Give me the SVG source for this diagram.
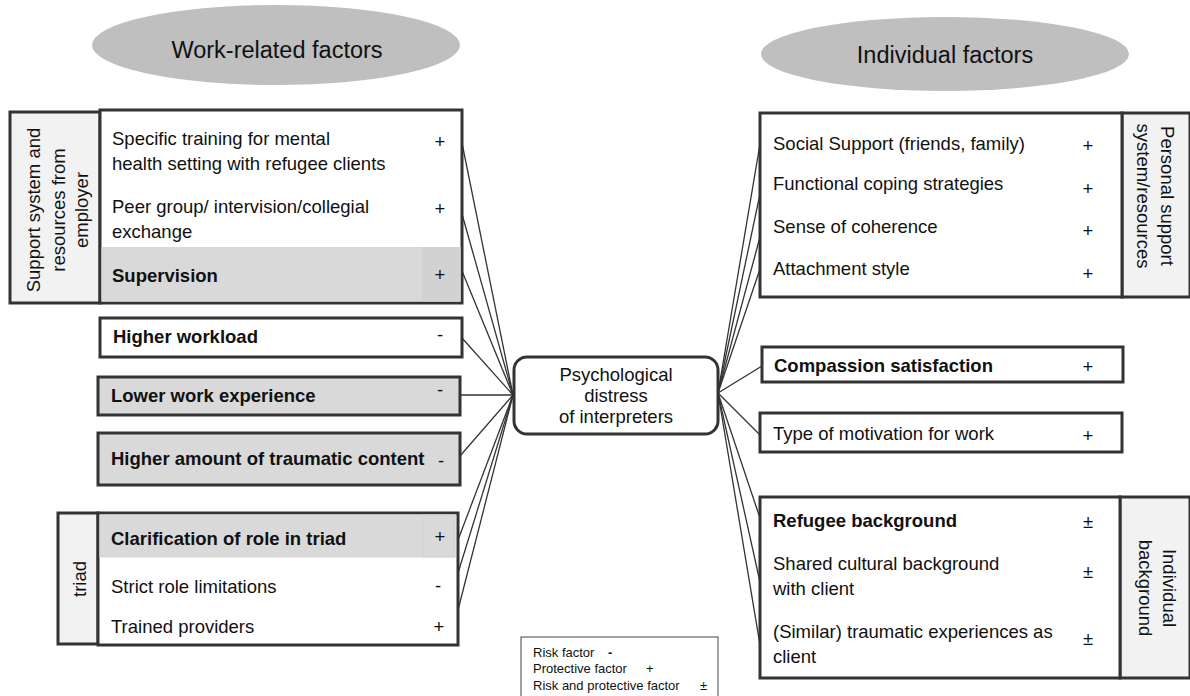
<svg xmlns="http://www.w3.org/2000/svg" width="1190" height="696" viewBox="0 0 1190 696">
  <style>
    text { font-family: "Liberation Sans", Arial, sans-serif; fill: #111; }
    .t { font-size: 18.5px; }
    .b { font-size: 18.5px; font-weight: bold; }
    .s { font-size: 18.5px; text-anchor: middle; }
    .h { font-size: 23.5px; text-anchor: middle; }
    .lg { font-size: 13px; }
    .box { fill: #fff; stroke: #333; stroke-width: 3; }
    .gbox { fill: #d9d9d9; stroke: #333; stroke-width: 3; }
    .side { fill: #f2f2f2; stroke: #333; stroke-width: 3; }
    .edge { stroke: #333; stroke-width: 1.3; fill: none; }
  </style>

  <!-- headers -->
  <g id="header-work">
    <ellipse cx="276" cy="45" rx="184" ry="40" fill="#bfbfbf"/>
    <text class="h" x="277" y="58">Work-related factors</text>
  </g>
  <g id="header-individual">
    <ellipse cx="945" cy="54" rx="184" ry="37" fill="#bfbfbf"/>
    <text class="h" x="945" y="63">Individual factors</text>
  </g>

  <!-- connectors -->
  <g id="connectors">
    <line class="edge" x1="513" y1="395" x2="462" y2="143"/>
    <line class="edge" x1="513" y1="395" x2="462" y2="214"/>
    <line class="edge" x1="513" y1="395" x2="462" y2="271"/>
    <line class="edge" x1="513" y1="395" x2="462" y2="338"/>
    <line class="edge" x1="513" y1="395" x2="460" y2="395"/>
    <line class="edge" x1="513" y1="395" x2="460" y2="456"/>
    <line class="edge" x1="513" y1="395" x2="458" y2="540"/>
    <line class="edge" x1="513" y1="395" x2="458" y2="573"/>
    <line class="edge" x1="513" y1="395" x2="458" y2="610"/>
    <line class="edge" x1="718" y1="393" x2="760" y2="144"/>
    <line class="edge" x1="718" y1="393" x2="760" y2="194"/>
    <line class="edge" x1="718" y1="393" x2="760" y2="237"/>
    <line class="edge" x1="718" y1="393" x2="760" y2="269"/>
    <line class="edge" x1="718" y1="393" x2="762" y2="366"/>
    <line class="edge" x1="718" y1="393" x2="760" y2="435"/>
    <line class="edge" x1="718" y1="393" x2="760" y2="518"/>
    <line class="edge" x1="718" y1="393" x2="760" y2="582"/>
    <line class="edge" x1="718" y1="393" x2="760" y2="645"/>
  </g>

  <!-- central node -->
  <g id="center">
    <rect x="514" y="357" width="204" height="77" rx="13" class="box"/>
    <text class="s" x="616" y="381">Psychological</text>
    <text class="s" x="616" y="402">distress</text>
    <text class="s" x="616" y="423">of interpreters</text>
  </g>

  <!-- employer support group -->
  <g id="employer-support">
    <rect x="10" y="112" width="90" height="191" class="side"/>
    <rect x="100" y="110" width="362" height="193" class="box"/>
    <rect x="101.5" y="247" width="359" height="54.5" fill="#d9d9d9"/>
    <rect x="422" y="247" width="38.5" height="54.5" fill="#d2d2d2"/>
    <g transform="translate(40,210) rotate(-90)">
      <text class="s" x="0" y="0">Support system and</text>
    </g>
    <g transform="translate(65,210) rotate(-90)">
      <text class="s" x="0" y="0">resources from</text>
    </g>
    <g transform="translate(88,210) rotate(-90)">
      <text class="s" x="0" y="0">employer</text>
    </g>
    <text class="t" x="112" y="145">Specific training for mental</text>
    <text class="t" x="112" y="170">health setting with refugee clients</text>
    <text class="t" x="112" y="213">Peer group/ intervision/collegial</text>
    <text class="t" x="112" y="238">exchange</text>
    <text class="b" x="112" y="282">Supervision</text>
    <text class="s" x="440" y="148">+</text>
    <text class="s" x="440" y="215">+</text>
    <text class="s" x="440" y="281">+</text>
  </g>

  <g id="higher-workload">
    <rect x="100" y="318" width="362" height="39" class="box"/>
    <text class="b" x="113" y="343">Higher workload</text>
    <text class="s" x="440" y="341">-</text>
  </g>

  <g id="lower-experience">
    <rect x="98" y="377" width="362" height="38" class="gbox"/>
    <text class="b" x="111" y="402">Lower work experience</text>
    <text class="s" x="440" y="396">-</text>
  </g>

  <g id="traumatic-content">
    <rect x="98" y="433" width="362" height="52" class="gbox"/>
    <text class="b" x="111" y="465">Higher amount of traumatic content</text>
    <text class="s" x="441" y="467">-</text>
  </g>

  <!-- triad group -->
  <g id="triad">
    <rect x="58" y="513" width="40" height="131" class="side"/>
    <rect x="98" y="513" width="360" height="132" class="box"/>
    <rect x="99.5" y="514.5" width="356" height="43" fill="#d9d9d9"/>
    <rect x="423" y="515" width="32" height="42" fill="none" stroke="#c9d3e0" stroke-width="1"/>
    <g transform="translate(86,579) rotate(-90)">
      <text class="s" x="0" y="0">triad</text>
    </g>
    <text class="b" x="111" y="545">Clarification of role in triad</text>
    <text class="t" x="111" y="593">Strict role limitations</text>
    <text class="t" x="111" y="633">Trained providers</text>
    <text class="s" x="440" y="543">+</text>
    <text class="s" x="438" y="592">-</text>
    <text class="s" x="439" y="633">+</text>
  </g>

  <!-- personal support group -->
  <g id="personal-support">
    <rect x="1122" y="113" width="68" height="184" class="side"/>
    <rect x="760" y="113" width="362" height="184" class="box"/>
    <g transform="translate(1161,196) rotate(90)">
      <text class="s" x="0" y="0">Personal support</text>
    </g>
    <g transform="translate(1137,196) rotate(90)">
      <text class="s" x="0" y="0">system/resources</text>
    </g>
    <text class="t" x="773" y="150">Social Support (friends, family)</text>
    <text class="t" x="773" y="190">Functional coping strategies</text>
    <text class="t" x="773" y="233">Sense of coherence</text>
    <text class="t" x="773" y="275">Attachment style</text>
    <text class="s" x="1088" y="152">+</text>
    <text class="s" x="1088" y="195">+</text>
    <text class="s" x="1088" y="237">+</text>
    <text class="s" x="1088" y="280">+</text>
  </g>

  <g id="compassion">
    <rect x="762" y="347" width="361" height="35" class="box"/>
    <text class="b" x="774" y="372">Compassion satisfaction</text>
    <text class="s" x="1088" y="373">+</text>
  </g>

  <g id="motivation">
    <rect x="760" y="413" width="362" height="39" class="box"/>
    <text class="t" x="773" y="440">Type of motivation for work</text>
    <text class="s" x="1088" y="442">+</text>
  </g>

  <!-- individual background group -->
  <g id="individual-background">
    <rect x="1120" y="497" width="70" height="181" class="side"/>
    <rect x="760" y="497" width="360" height="181" class="box"/>
    <g transform="translate(1163,588) rotate(90)">
      <text class="s" x="0" y="0">Individual</text>
    </g>
    <g transform="translate(1139,588) rotate(90)">
      <text class="s" x="0" y="0">background</text>
    </g>
    <text class="b" x="773" y="527">Refugee background</text>
    <text class="t" x="773" y="570">Shared cultural background</text>
    <text class="t" x="773" y="595">with client</text>
    <text class="t" x="773" y="638">(Similar) traumatic experiences as</text>
    <text class="t" x="773" y="663">client</text>
    <text class="s" x="1088" y="528">±</text>
    <text class="s" x="1088" y="578">±</text>
    <text class="s" x="1088" y="645">±</text>
  </g>

  <!-- legend -->
  <g id="legend">
    <rect x="521" y="637" width="197" height="64" fill="#fff" stroke="#444" stroke-width="1"/>
    <text class="lg" x="533" y="657">Risk factor <tspan x="608" font-weight="bold">-</tspan></text>
    <text class="lg" x="533" y="673">Protective factor <tspan x="646">+</tspan></text>
    <text class="lg" x="533" y="690">Risk and protective factor <tspan x="700">±</tspan></text>
  </g>
</svg>
